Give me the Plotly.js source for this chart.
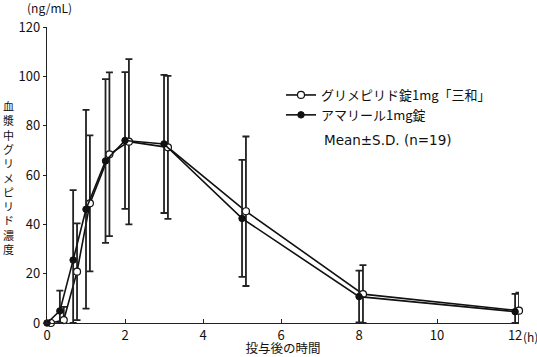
<!DOCTYPE html>
<html>
<head>
<meta charset="utf-8">
<script src="https://cdn.plot.ly/plotly-3.0.1.min.js"></script>
<style>html,body{margin:0;padding:0;background:#fff}#chart{width:537px;height:357px}</style>
</head>
<body>
<div id="chart"></div>
<script>
// Sampling times (h)
const times = [0, 0.33, 0.67, 1, 1.5, 2, 3, 5, 8, 12];
// グリメピリド錠1mg「三和」 (open circles)
const sanwaName = 'グリメピリド錠1mg「三和」';
const sanwaMean = [0, 1.2, 20.8, 48.5, 68.4, 73.5, 71.2, 45.3, 11.7, 5.0];
const sanwaSD   = [0, 5.3, 19.6, 27.6, 33.2, 33.5, 29.0, 30.3, 11.8, 7.3];
// アマリール1mg錠 (filled circles)
const amarylName = 'アマリール1mg錠';
const amarylMean = [0, 4.9, 25.5, 46.1, 65.7, 74.0, 72.6, 42.4, 10.7, 4.6];
const amarylSD   = [0, 8.2, 28.4, 40.3, 33.2, 27.7, 28.0, 23.7, 10.5, 7.2];
// Axis ticks
const xTicks = [0, 2, 4, 6, 8, 10, 12];
const yTicks = [0, 20, 40, 60, 80, 100, 120];
const yTitleText = '血漿中グリメピリド濃度';
const xTitleText = '投与後の時間';
const unitText = '(ng/mL)';
const hourText = '(h)';
const noteText = 'Mean±S.D. (n=19)';

const FONT = '"Noto Sans CJK JP", "Noto Sans", Arial, sans-serif';
const INK = '#111';
const dodge = 0.1; // open series drawn slightly right, as in the original

function errBar(mean, sd) {
  return {
    type: 'data', symmetric: false,
    array: sd,
    arrayminus: sd.map((s, i) => Math.min(s, mean[i])),
    color: '#222', thickness: 1.8, width: 3.5
  };
}

const traces = [
  {
    name: sanwaName,
    x: times.map(t => t + dodge), y: sanwaMean,
    mode: 'lines+markers', type: 'scatter', cliponaxis: false,
    line: {color: INK, width: 1.6},
    marker: {symbol: 'circle', size: 7, color: '#fff', line: {color: INK, width: 1.2}},
    error_y: errBar(sanwaMean, sanwaSD)
  },
  {
    name: amarylName,
    x: times, y: amarylMean,
    mode: 'lines+markers', type: 'scatter', cliponaxis: false,
    line: {color: INK, width: 1.6},
    marker: {symbol: 'circle', size: 6.5, color: INK, line: {color: INK, width: 1}},
    error_y: errBar(amarylMean, amarylSD)
  }
];

const L = 47, R = 18, T = 27, B = 34;
const plotW = 537 - L - R, plotH = 357 - T - B;
const annotations = [];
// vertical (stacked) y-axis title, one character per line
annotations.push({
  text: Array.from(yTitleText).join('<br>'), xref: 'paper', yref: 'paper',
  x: -39 / plotW, xanchor: 'center',
  y: (357 - B - 177) / plotH, yanchor: 'middle',
  showarrow: false, align: 'center',
  font: {family: FONT, size: 11, color: INK}
});
annotations.push({
  text: unitText, xref: 'paper', yref: 'paper',
  x: -22 / plotW, xanchor: 'left',
  y: (357 - B - 7) / plotH, yanchor: 'middle',
  showarrow: false, font: {family: FONT, size: 12, color: INK}
});
annotations.push({
  text: hourText, xref: 'x', yref: 'paper',
  x: 12, xshift: 6, xanchor: 'left',
  y: -13 / plotH, yanchor: 'middle',
  showarrow: false, font: {family: FONT, size: 12, color: INK}
});
annotations.push({
  text: noteText, xref: 'paper', yref: 'paper',
  x: (322 - L) / plotW, xanchor: 'left',
  y: (357 - B - 140) / plotH, yanchor: 'middle',
  showarrow: false, font: {family: '"DejaVu Sans", sans-serif', size: 13.5, color: INK}
});

const layout = {
  width: 537, height: 357,
  margin: {l: L, r: R, t: T, b: B, pad: 0},
  paper_bgcolor: '#fff', plot_bgcolor: '#fff',
  font: {family: FONT, size: 13, color: INK},
  showlegend: true,
  legend: {
    x: (281 - L) / plotW, xanchor: 'left',
    y: (357 - B - 80) / plotH, yanchor: 'top',
    bgcolor: 'rgba(0,0,0,0)', borderwidth: 0,
    font: {family: FONT, size: 13, color: INK},
    tracegroupgap: 0, itemwidth: 30
  },
  xaxis: {
    range: [0, 12.1], showgrid: false, zeroline: false,
    showline: true, linecolor: '#222', linewidth: 1.2,
    ticks: 'inside', ticklen: 4, tickwidth: 1, tickcolor: '#222',
    tickvals: xTicks, ticktext: xTicks.map(String),
    tickfont: {family: FONT, size: 13, color: INK},
    title: {text: xTitleText, font: {family: FONT, size: 12.5, color: INK}, standoff: 9}
  },
  yaxis: {
    range: [0, 120], showgrid: false, zeroline: false,
    showline: true, linecolor: '#222', linewidth: 1.2,
    ticks: 'outside', ticklen: 3, tickwidth: 1, tickcolor: '#222',
    tickvals: yTicks, ticktext: yTicks.map(String),
    tickfont: {family: FONT, size: 13, color: INK}
  },
  annotations: annotations
};

Plotly.newPlot('chart', traces, layout, {displayModeBar: false, staticPlot: true});
</script>
</body>
</html>
